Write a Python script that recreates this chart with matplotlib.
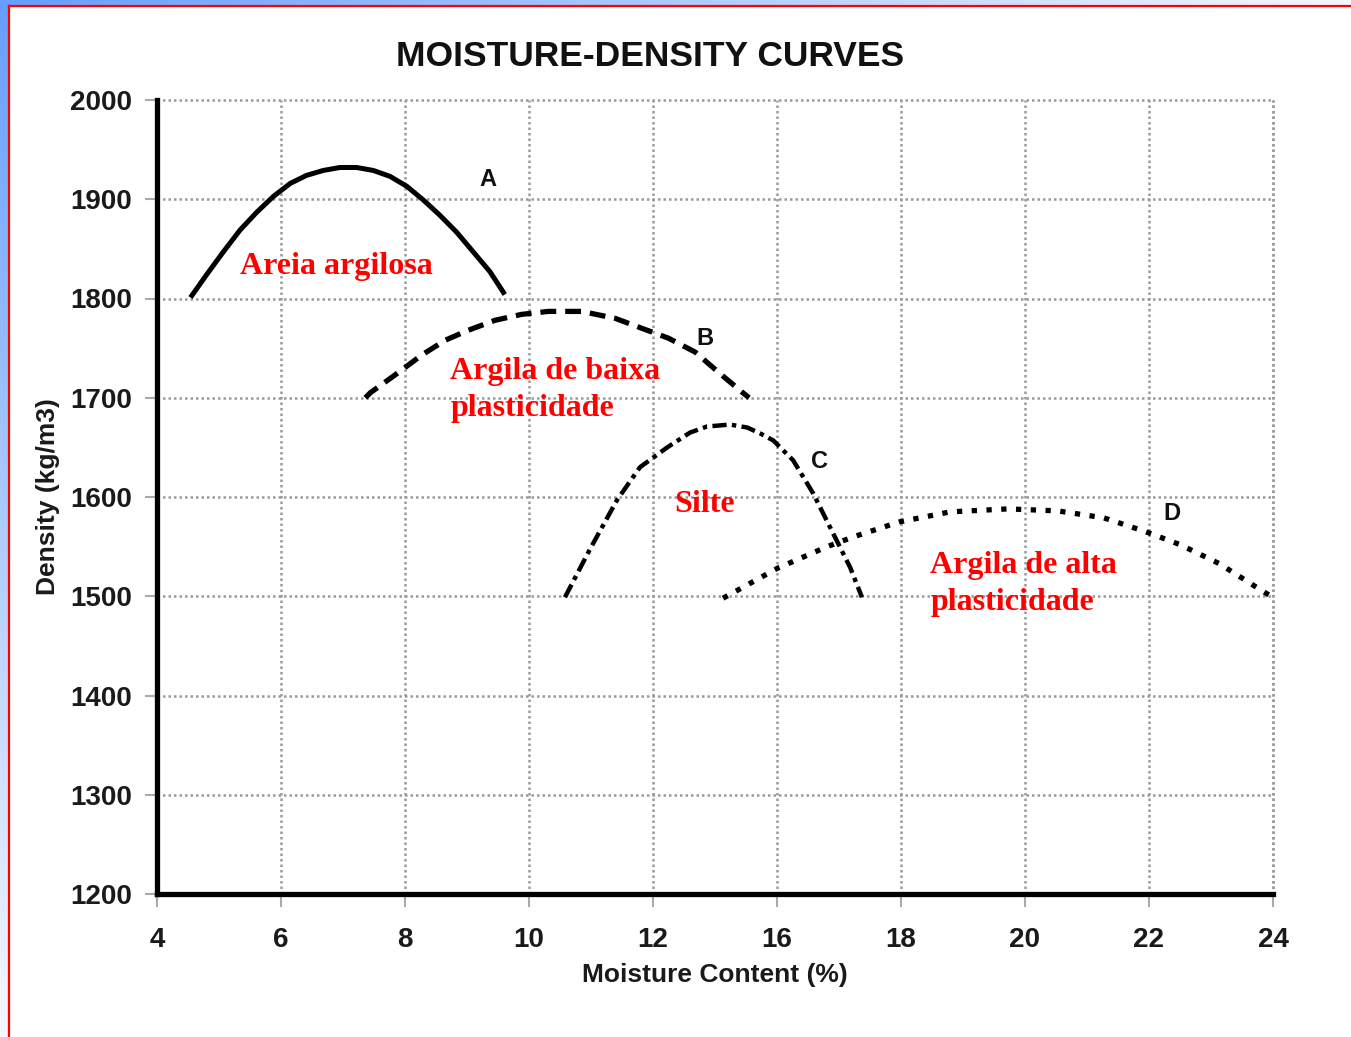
import numpy as np
import matplotlib
matplotlib.use("Agg")
import matplotlib.pyplot as plt
from matplotlib.patches import Rectangle
from matplotlib.lines import Line2D

# axis ticks (the printed scale skips 14 on the moisture axis)
x_ticks = [4, 6, 8, 10, 12, 14, 16, 18, 20, 22]
x_tick_labels = ["4", "6", "8", "10", "12", "16", "18", "20", "22", "24"]
y_ticks = [1200, 1300, 1400, 1500, 1600, 1700, 1800, 1900, 2000]

# curve A - areia argilosa
a_moist = [4.54, 4.80, 5.07, 5.34, 5.61, 5.88, 6.15, 6.41, 6.68, 6.95, 7.22,
           7.49, 7.76, 8.03, 8.30, 8.56, 8.83, 9.10, 9.37, 9.61]
a_dens = [1801, 1824, 1847, 1869, 1887, 1903, 1916, 1924, 1929, 1932, 1932,
          1929, 1923, 1913, 1899, 1884, 1867, 1847, 1827, 1804]

# curve B - argila de baixa plasticidade
b_moist = [7.36, 7.44, 7.84, 8.27, 8.65, 9.02, 9.45, 9.88, 10.31, 10.85,
           11.39, 11.82, 12.25, 12.68, 13.05, 13.43, 13.55]
b_dens = [1700, 1705, 1723, 1743, 1758, 1768, 1778, 1784, 1787, 1787,
          1780, 1770, 1760, 1746, 1726, 1706, 1700]

# curve C - silte
c_moist = [10.58, 10.98, 11.42, 11.79, 12.23, 12.60, 12.87, 13.24, 13.52, 13.73,
           13.94, 14.26, 14.58, 14.90, 15.18, 15.37]
c_dens = [1499, 1547, 1597, 1630, 1650, 1665, 1671, 1673, 1670, 1664,
          1657, 1637, 1604, 1564, 1529, 1499]

# curve D - argila de alta plasticidade
d_moist = [13.13, 14.0, 14.81, 15.24, 15.98, 16.79, 17.72, 18.53, 19.27, 19.95,
           20.5, 21.13, 21.76, 21.94]
d_dens = [1498, 1528, 1550, 1560, 1575, 1585, 1588, 1586, 1579, 1565,
          1552, 1533, 1508, 1501]

W, H = 1351, 1037
fig = plt.figure(figsize=(W / 100, H / 100), dpi=100)

# slide frame: blue fade on the top and left edges, red rule inside it
bg = fig.add_axes([0, 0, 1, 1], zorder=-5)
u = np.linspace(0, 1, 300)[None, :]
v = np.linspace(0, 1, 300)[:, None]
t = (1 - u) * (1 - v)
blue = np.array([0.40, 0.62, 1.0])
pale = np.array([0.96, 0.97, 1.0])
img = pale[None, None, :] + t[..., None] * (blue - pale)[None, None, :]
bg.imshow(img, extent=[0, 1, 0, 1], aspect="auto")
bg.set_axis_off()
fig.add_artist(Rectangle((9 / W, 0), 1, 1 - 6 / H, transform=fig.transFigure,
                         facecolor="white", edgecolor="none", zorder=-4))
fig.add_artist(Line2D([8.5 / W, 8.5 / W], [0, 1 - 5.5 / H], transform=fig.transFigure,
                      color="#ff0000", lw=1.6))
fig.add_artist(Line2D([8.5 / W, 1], [1 - 5.5 / H, 1 - 5.5 / H], transform=fig.transFigure,
                      color="#ff0000", lw=1.6))

ax = fig.add_axes([157 / W, 1 - 894 / H, (1273 - 157) / W, (894 - 100) / H])
ax.set_xlim(4, 22)
ax.set_ylim(1200, 2000)
ax.set_facecolor("none")

ax.plot(a_moist, a_dens, color="black", lw=3.6, solid_capstyle="butt",
        solid_joinstyle="round", zorder=4)
ax.plot(b_moist, b_dens, color="black", lw=3.8, linestyle=(0, (3.0, 1.7)),
        dash_capstyle="butt", zorder=4)
ax.plot(c_moist, c_dens, color="black", lw=3.2, linestyle=(0, (3.2, 1.2, 1.0, 1.2)),
        dash_capstyle="butt", zorder=4)
ax.plot(d_moist, d_dens, color="black", lw=3.8, linestyle=(0, (1.0, 1.8)),
        dash_capstyle="butt", zorder=4)

# curve letters
lbl = dict(fontsize=17, fontweight="bold", family="Liberation Sans", color="#111111",
           ha="center", va="center", zorder=5)
ax.text(9.34, 1920, "A", **lbl)
ax.text(12.84, 1760, "B", **lbl)
ax.text(14.69, 1636, "C", **lbl)
ax.text(20.37, 1583, "D", **lbl)

# soil type names
red = dict(fontsize=23, fontweight="bold", family="Liberation Serif", color="#ff0000",
           ha="left", va="center", linespacing=1.37, zorder=6)
ax.text(5.34, 1832, "Areia argilosa", **red)
ax.text(8.73, 1708, "Argila de baixa\nplasticidade", **red)
ax.text(12.35, 1592, "Silte", **red)
ax.text(16.47, 1512, "Argila de alta\nplasticidade", **red)

# dotted grid, including the closing lines on top and right
grid = dict(color="#9a9a9a", lw=1.8, linestyle=(0, (1, 1.2)), zorder=1, clip_on=False)
for xv in x_ticks[1:] + [22]:
    ax.axvline(xv, **grid)
for yv in y_ticks[1:]:
    ax.axhline(yv, **grid)

for side in ["top", "right"]:
    ax.spines[side].set_visible(False)
for side in ["left", "bottom"]:
    ax.spines[side].set_linewidth(3.8)
    ax.spines[side].set_color("black")
    ax.spines[side].set_zorder(3)

ax.set_xticks(x_ticks)
ax.set_xticklabels(x_tick_labels)
ax.set_yticks(y_ticks)
ax.tick_params(axis="both", color="#aaaaaa", width=1.5, length=9, direction="out")
ax.tick_params(axis="x", pad=15)
ax.tick_params(axis="y", pad=9)
for tl in ax.get_xticklabels() + ax.get_yticklabels():
    tl.set_fontsize(20)
    tl.set_fontweight("bold")
    tl.set_family("Liberation Sans")
    tl.set_color("#1a1a1a")

fig.text(650 / W, 1 - 57 / H, "MOISTURE-DENSITY CURVES", fontsize=25.5, fontweight="bold",
         family="Liberation Sans", color="#111111", ha="center", va="center")
fig.text(715 / W, 1 - 975 / H, "Moisture Content (%)", fontsize=19, fontweight="bold",
         family="Liberation Sans", color="#1a1a1a", ha="center", va="center")
fig.text(48 / W, 1 - 497 / H, "Density (kg/m3)", fontsize=19, fontweight="bold",
         family="Liberation Sans", color="#1a1a1a", ha="center", va="center", rotation=90)

fig.savefig("out.png", dpi=100)
